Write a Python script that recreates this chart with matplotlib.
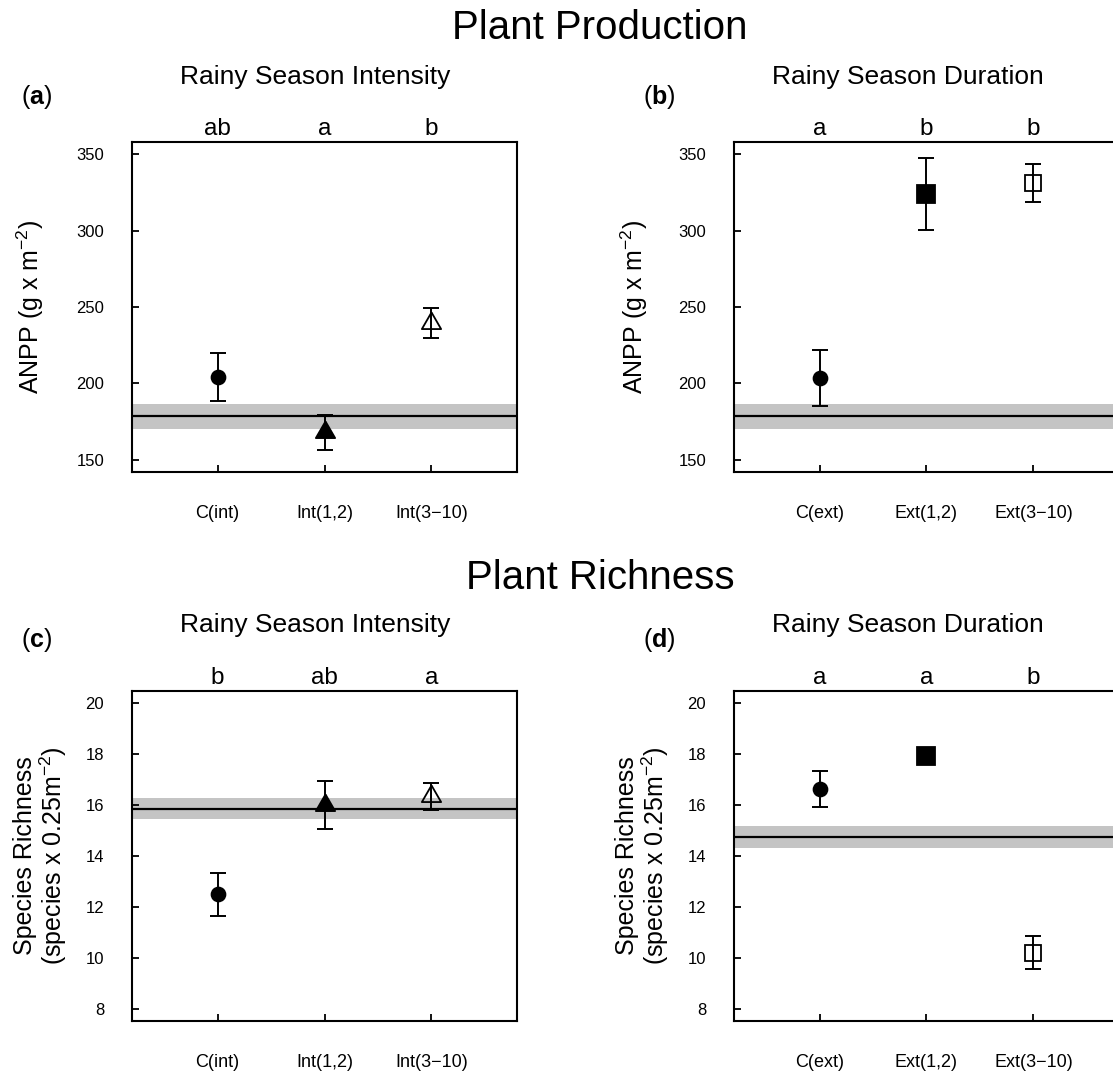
import matplotlib
matplotlib.use("Agg")
import matplotlib.pyplot as plt
from matplotlib.transforms import blended_transform_factory

plt.rcParams["font.family"] = ["Liberation Sans", "DejaVu Sans"]
plt.rcParams["mathtext.fontset"] = "custom"
plt.rcParams["mathtext.rm"] = "Liberation Sans"
plt.rcParams["mathtext.it"] = "Liberation Sans:italic"
plt.rcParams["mathtext.bf"] = "Liberation Sans:bold"

W, H = 1113, 1077  # output size in pixels

# --- data ---------------------------------------------------------------------
int_labels = ["C(int)", "Int(1,2)", "Int(3\u221210)"]
ext_labels = ["C(ext)", "Ext(1,2)", "Ext(3\u221210)"]

anpp_int_mean = [204.0, 168.0, 239.4]
anpp_int_se = [15.8, 11.6, 9.8]
anpp_int_letters = ["ab", "a", "b"]
anpp_int_ctrl = 178.6
anpp_int_ctrl_se = 8.2

anpp_ext_mean = [203.7, 324.0, 331.3]
anpp_ext_se = [18.3, 23.5, 12.3]
anpp_ext_letters = ["a", "b", "b"]
anpp_ext_ctrl = 178.6
anpp_ext_ctrl_se = 8.2

rich_int_mean = [12.5, 16.0, 16.33]
rich_int_se = [0.85, 0.93, 0.53]
rich_int_letters = ["b", "ab", "a"]
rich_int_ctrl = 15.85
rich_int_ctrl_se = 0.4

rich_ext_mean = [16.63, 17.91, 10.22]
rich_ext_se = [0.7, 0.2, 0.65]
rich_ext_letters = ["a", "a", "b"]
rich_ext_ctrl = 14.75
rich_ext_ctrl_se = 0.44

anpp_ticks = [150, 200, 250, 300, 350]
rich_ticks = [8, 10, 12, 14, 16, 18, 20]

# R-style triangle (pch 17/2): the point sits at the centroid, not the bbox centre
TRI = [(0.0, 1.555), (1.347, -0.778), (-1.347, -0.778), (0.0, 1.555)]
INT_MARKERS = [("o", True, 10), (TRI, True, 16), (TRI, False, 16)]
EXT_MARKERS = [("o", True, 10), ("s", True, 12.5), ("s", False, 12)]


def px_rect(left, top, right, bottom):
    return [left / W, 1 - bottom / H, (right - left) / W, (bottom - top) / H]


def panel(ax, means, ses, ctrl, ctrl_se, labels, letters, markers, ylim, yticks,
          ylabel, label_offset):
    xs = [1, 2, 3]
    ax.axhspan(ctrl - ctrl_se, ctrl + ctrl_se, color="#c4c4c4", lw=0, zorder=1)
    ax.axhline(ctrl, color="black", lw=1.6, zorder=2)
    for x, m, s, (mk, filled, ms) in zip(xs, means, ses, markers):
        ax.errorbar(x, m, yerr=s, fmt="none", ecolor="black", elinewidth=1.4,
                    capsize=6, capthick=1.4, zorder=3)
        ax.plot(x, m, marker=mk, ms=ms, mec="black", mew=1.3,
                mfc="black" if filled else "none", ls="none", zorder=4)
    ax.set_xlim(0.2, 3.8)
    ax.set_ylim(*ylim)
    ax.set_xticks(xs)
    ax.set_xticklabels(labels)
    ax.set_yticks(yticks)
    ax.tick_params(direction="in", length=5, width=1.3, labelsize=12, color="black")
    ax.tick_params(axis="y", pad=20)
    ax.tick_params(axis="x", pad=24, labelsize=13)
    for sp in ax.spines.values():
        sp.set_linewidth(1.5)
    trans = blended_transform_factory(ax.transData, ax.transAxes)
    for x, lt in zip(xs, letters):
        ax.text(x, 1.022, lt, transform=trans, ha="center", va="baseline", fontsize=17.5)
    # y label centred on the axes, left of the spine
    bb = ax.get_position()
    ax.figure.text(bb.x0 - label_offset / W, bb.y0 + bb.height / 2, ylabel, rotation=90,
                   ha="center", va="center", fontsize=18, linespacing=1.05)


fig = plt.figure(figsize=(W / 100, H / 100), dpi=100)

ax_a = fig.add_axes(px_rect(132, 142, 517, 472))
ax_b = fig.add_axes(px_rect(734, 142, 1119, 472))
ax_c = fig.add_axes(px_rect(132, 691, 517, 1021))
ax_d = fig.add_axes(px_rect(734, 691, 1119, 1021))

anpp_ylabel = r"ANPP (g x m$^{-2}$)"
rich_ylabel = "Species Richness\n" + r"(species x 0.25m$^{-2}$)"

panel(ax_a, anpp_int_mean, anpp_int_se, anpp_int_ctrl, anpp_int_ctrl_se,
      int_labels, anpp_int_letters, INT_MARKERS, (142, 358), anpp_ticks, anpp_ylabel, 102)
panel(ax_b, anpp_ext_mean, anpp_ext_se, anpp_ext_ctrl, anpp_ext_ctrl_se,
      ext_labels, anpp_ext_letters, EXT_MARKERS, (142, 358), anpp_ticks, anpp_ylabel, 100)
panel(ax_c, rich_int_mean, rich_int_se, rich_int_ctrl, rich_int_ctrl_se,
      int_labels, rich_int_letters, INT_MARKERS, (7.55, 20.45), rich_ticks, rich_ylabel, 91)
panel(ax_d, rich_ext_mean, rich_ext_se, rich_ext_ctrl, rich_ext_ctrl_se,
      ext_labels, rich_ext_letters, EXT_MARKERS, (7.55, 20.45), rich_ticks, rich_ylabel, 91)


def ftext(x, y, s, **kw):
    fig.text(x / W, 1 - y / H, s, ha="center", va="center", **kw)


ftext(600, 28, "Plant Production", fontsize=29)
ftext(600, 578, "Plant Richness", fontsize=29)
ftext(315, 77, "Rainy Season Intensity", fontsize=19)
ftext(908, 77, "Rainy Season Duration", fontsize=19)
ftext(315, 625, "Rainy Season Intensity", fontsize=19)
ftext(908, 625, "Rainy Season Duration", fontsize=19)
ftext(37, 97, r"($\mathbf{a}$)", fontsize=18)
ftext(659, 97, r"($\mathbf{b}$)", fontsize=18)
ftext(37, 640, r"($\mathbf{c}$)", fontsize=18)
ftext(659, 640, r"($\mathbf{d}$)", fontsize=18)

fig.savefig("out.png", dpi=100)
